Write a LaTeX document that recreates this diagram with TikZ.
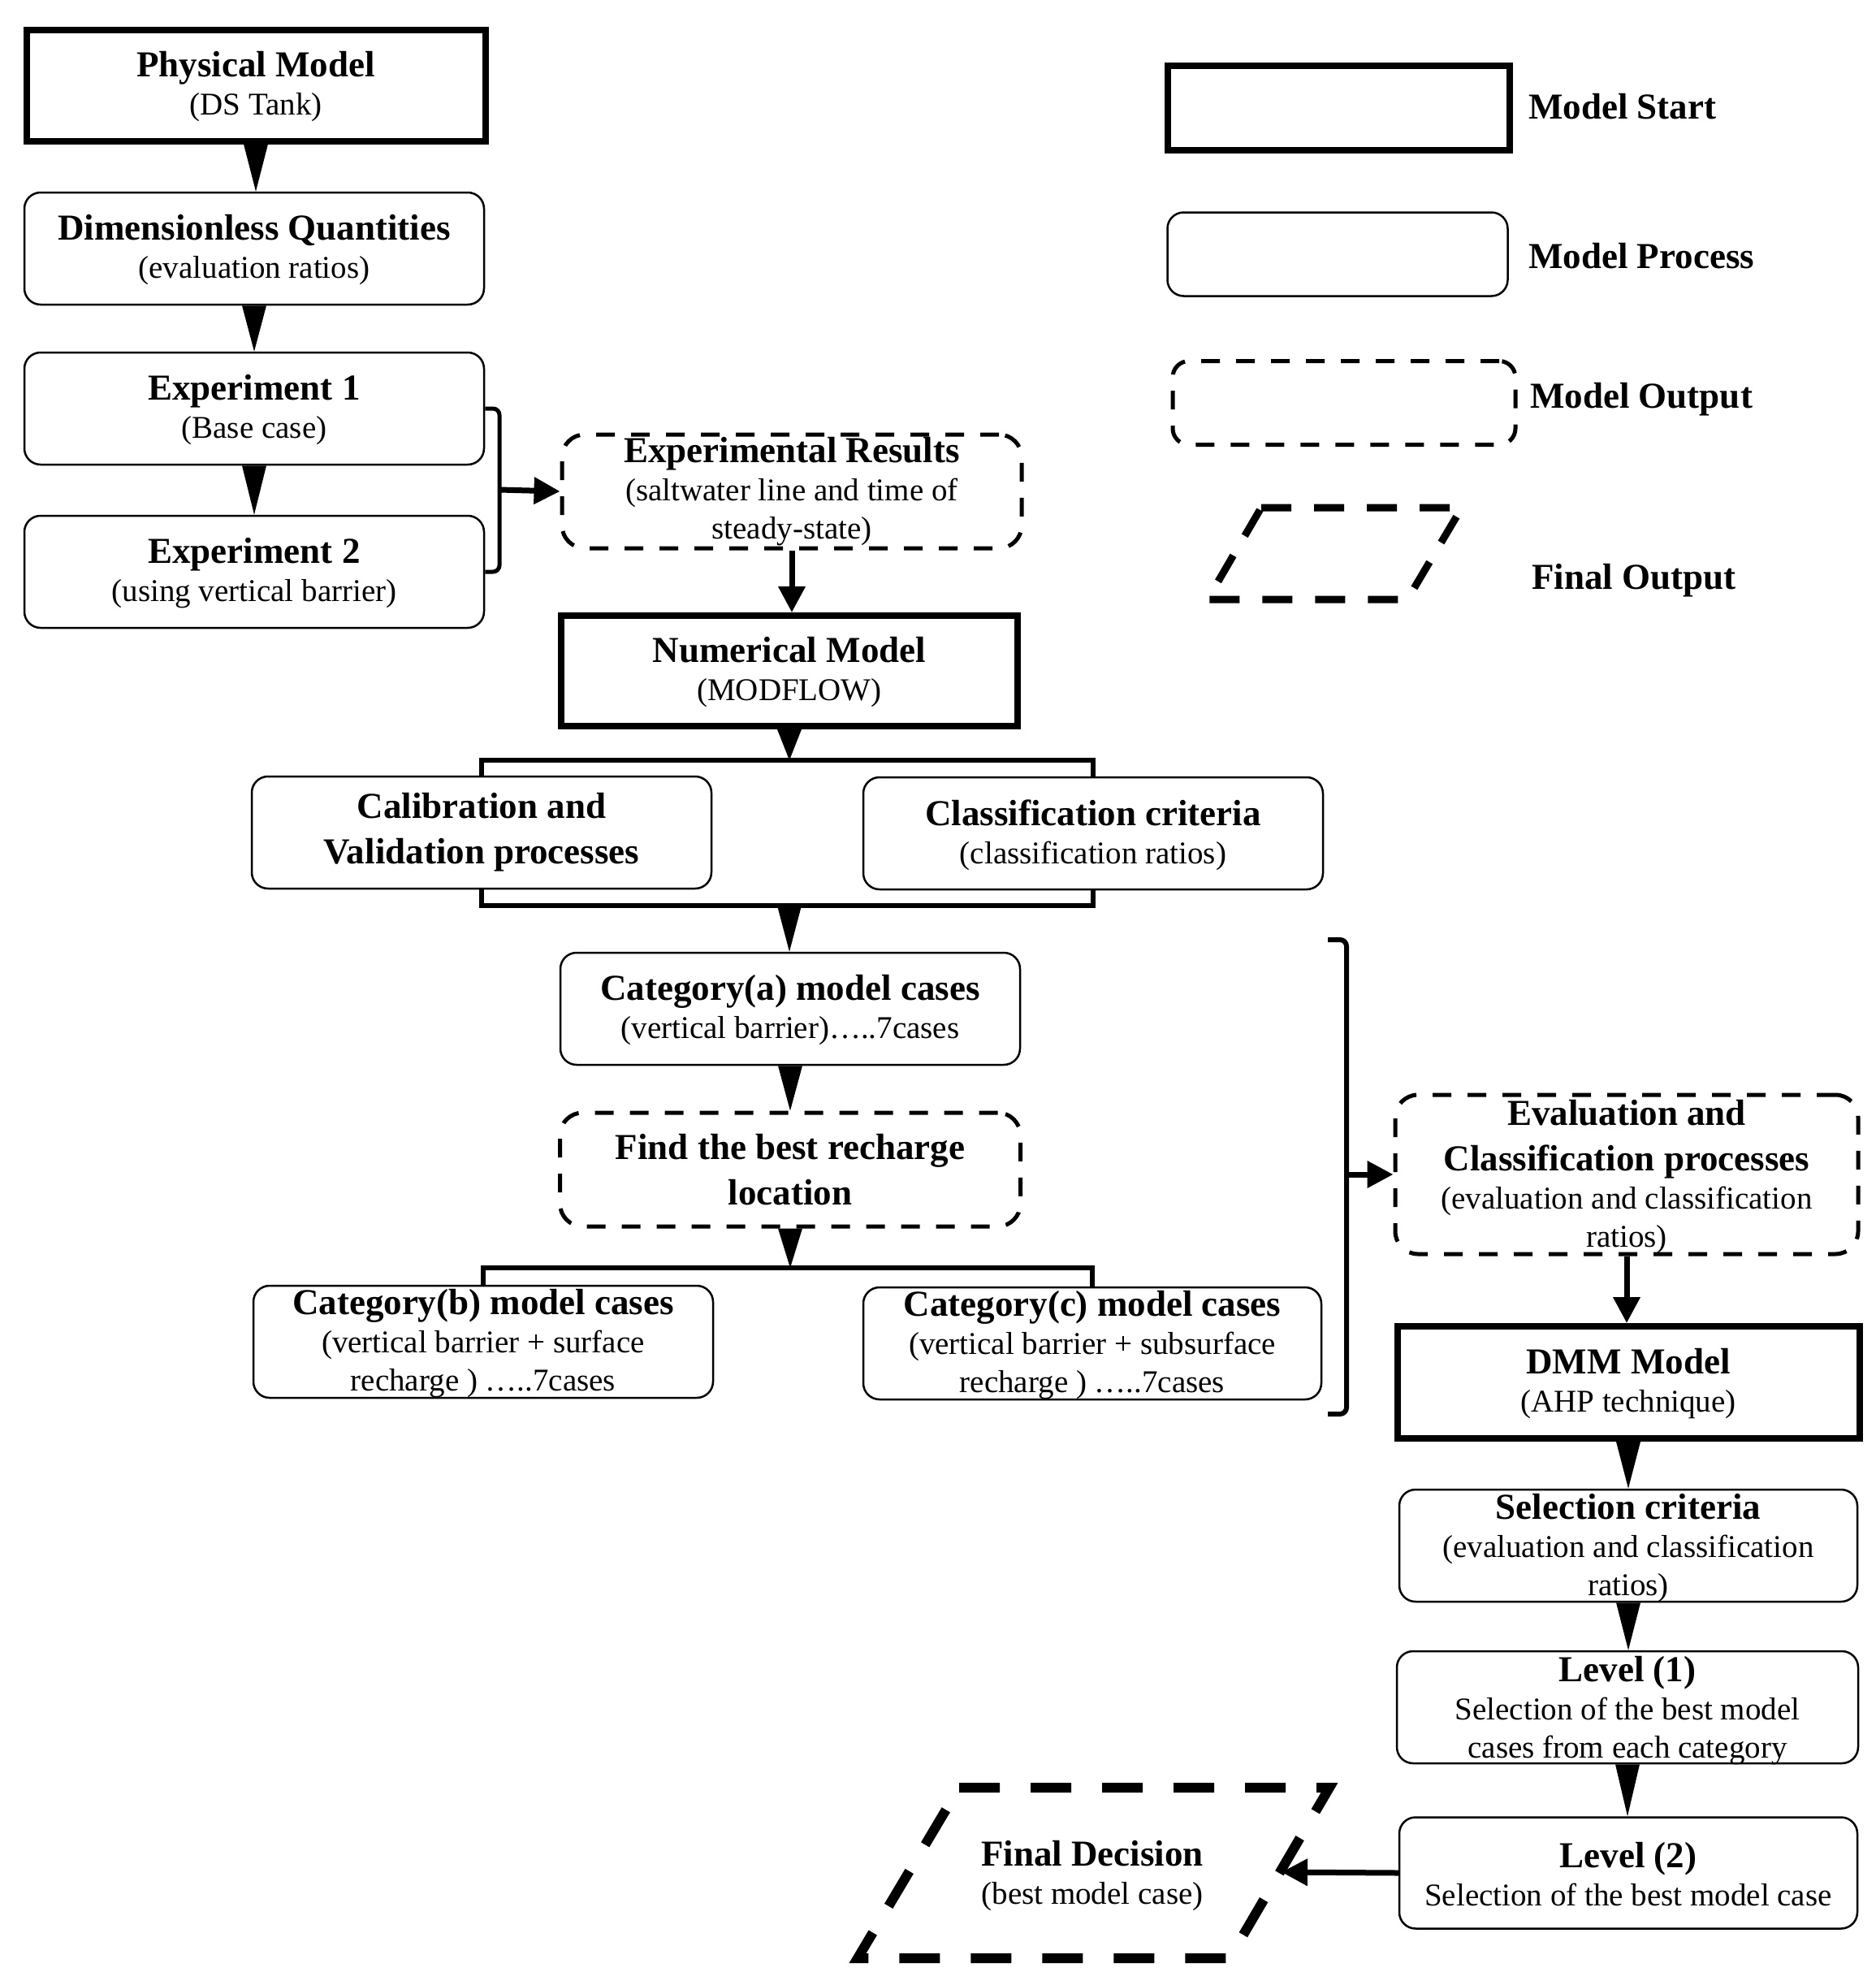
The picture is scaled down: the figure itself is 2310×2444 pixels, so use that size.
\documentclass[tikz,border=0pt]{standalone}
\usepackage{fontspec}
\setmainfont{Liberation Serif}
\usetikzlibrary{arrows.meta,calc}
\newcommand{\Hd}{\fontsize{45}{47}\selectfont\bfseries}
\newcommand{\Rg}{\fontsize{39}{47}\selectfont\mdseries}
\newcommand{\wedgeconn}[2]{\fill[black] ([xshift=-15pt]#1) -- ([xshift=15pt]#1) -- (#1 |- #2) -- cycle;}
\tikzset{
  startbox/.style={draw, line width=8pt, inner sep=0pt},
  procbox/.style={draw, line width=2.5pt, rounded corners=20pt, inner sep=0pt},
  outbox/.style={draw, line width=5pt, dash pattern=on 23pt off 20pt, rounded corners=28pt, inner sep=0pt},
  txt/.style={align=center, inner sep=0pt, font=\Rg},
  legtxt/.style={anchor=west, inner sep=0pt, font=\Hd},
  thickarrow/.style={line width=7pt, -{Triangle[length=32pt,width=32pt]}},
  brk/.style={line width=5pt, rounded corners=8pt},
  bar/.style={line width=6pt},
  finalshape/.style={line width=12pt, dash pattern=on 50pt off 38pt},
  legfinal/.style={line width=9pt, dash pattern=on 37pt off 28pt}
}
\begin{document}
\begin{tikzpicture}[x=1pt,y=-1pt]
\useasboundingbox (0,0) rectangle (2310,2444);

% ---------- left column ----------
\node[startbox, minimum width=565pt, minimum height=137pt] (phys) at (315,105) {};
\node[txt] (phys-t) at ([yshift=-2pt]phys.center) {{\Hd Physical Model}\\(DS Tank)};

\node[procbox, minimum width=566pt, minimum height=138pt] (dimq) at (313,306) {};
\node[txt] (dimq-t) at ([yshift=-2pt]dimq.center) {{\Hd Dimensionless Quantities}\\(evaluation ratios)};

\node[procbox, minimum width=566pt, minimum height=138pt] (exp1) at (313,503) {};
\node[txt] (exp1-t) at ([yshift=-2pt]exp1.center) {{\Hd Experiment 1}\\(Base case)};

\node[procbox, minimum width=566pt, minimum height=138pt] (exp2) at (313,704) {};
\node[txt] (exp2-t) at ([yshift=-2pt]exp2.center) {{\Hd Experiment 2}\\(using vertical barrier)};

\node[outbox, minimum width=566pt, minimum height=140pt] (expres) at (975,605) {};
\node[txt] (expres-t) at (expres.center) {{\Hd Experimental Results}\\(saltwater line and time of\\steady-state)};

\node[startbox, minimum width=562pt, minimum height=136pt] (num) at (972,826) {};
\node[txt] (num-t) at ([yshift=-2pt]num.center) {{\Hd Numerical Model}\\(MODFLOW)};

\node[procbox, minimum width=566pt, minimum height=138pt] (calib) at (593,1025) {};
\node[txt] (calib-t) at (calib.center) {{\Hd Calibration and}\\[9pt]{\Hd Validation processes}};

\node[procbox, minimum width=566pt, minimum height=138pt] (classc) at (1346,1026) {};
\node[txt] (classc-t) at ([yshift=-2pt]classc.center) {{\Hd Classification criteria}\\(classification ratios)};

\node[procbox, minimum width=566pt, minimum height=138pt] (cata) at (973,1242) {};
\node[txt] (cata-t) at ([yshift=-2pt]cata.center) {{\Hd Category(a) model cases}\\(vertical barrier)…..7cases};

\node[outbox, minimum width=567pt, minimum height=140pt] (find) at (973,1440) {};
\node[txt] (find-t) at (find.center) {{\Hd Find the best recharge}\\[9pt]{\Hd location}};

\node[procbox, minimum width=566pt, minimum height=138pt] (catb) at (595,1652) {};
\node[txt] (catb-t) at ([yshift=-2pt]catb.center) {{\Hd Category(b) model cases}\\(vertical barrier + surface\\recharge ) …..7cases};

\node[procbox, minimum width=564pt, minimum height=138pt] (catc) at (1345,1654) {};
\node[txt] (catc-t) at ([yshift=-2pt]catc.center) {{\Hd Category(c) model cases}\\(vertical barrier + subsurface\\recharge ) …..7cases};

% ---------- right column ----------
\node[outbox, minimum width=570pt, minimum height=196pt] (eval) at (2003,1446) {};
\node[txt] (eval-t) at ([yshift=-3pt]eval.center) {{\Hd Evaluation and}\\[9pt]{\Hd Classification processes}\\(evaluation and classification\\ratios)};

\node[startbox, minimum width=569pt, minimum height=138pt] (dmm) at (2005,1702) {};
\node[txt] (dmm-t) at ([yshift=-2pt]dmm.center) {{\Hd DMM Model}\\(AHP technique)};

\node[procbox, minimum width=564pt, minimum height=138pt] (selc) at (2005,1903) {};
\node[txt] (selc-t) at ([yshift=-3pt]selc.center) {{\Hd Selection criteria}\\(evaluation and classification\\ratios)};

\node[procbox, minimum width=568pt, minimum height=138pt] (lev1) at (2004,2102) {};
\node[txt] (lev1-t) at ([yshift=-4pt]lev1.center) {{\Hd Level (1)}\\Selection of the best model\\cases from each category};

\node[procbox, minimum width=564pt, minimum height=137pt] (lev2) at (2005,2306) {};
\node[txt] (lev2-t) at ([yshift=-2pt]lev2.center) {{\Hd Level (2)}\\Selection of the best model case};

% final decision parallelogram
\coordinate (fBL) at (1056,2411);
\coordinate (fTL) at (1181,2201);
\coordinate (fTR) at (1637,2201);
\coordinate (fBR) at (1514,2411);
\draw[finalshape] (fTL) -- (fTR) -- (fBR) -- (fBL) -- cycle;
\node[txt] (final) at (1345,2310) {{\Hd Final Decision}\\(best model case)};
\coordinate (finR) at (1578,2305);

% ---------- legend ----------
\node[startbox, minimum width=421pt, minimum height=104pt] (legstart) at (1648,133) {};
\node[legtxt] (legstart-t) at (1882,131) {Model Start};
\node[procbox, minimum width=419pt, minimum height=103pt] (legproc) at (1647,313) {};
\node[legtxt] (legproc-t) at (1882,315) {Model Process};
\node[outbox, rounded corners=20pt, minimum width=422pt, minimum height=103pt] (legout) at (1655,496) {};
\node[legtxt] (legout-t) at (1884,492) {Model Output};
\coordinate (lBL) at (1487,738);
\coordinate (lTL) at (1553,625);
\coordinate (lTR) at (1800,625);
\coordinate (lBR) at (1733,738);
\draw[legfinal] (lTL) -- (lTR) -- (lBR) -- (lBL) -- cycle;
\node[legtxt] (legfin-t) at (1886,715) {Final Output};

% ---------- connectors ----------
\wedgeconn{phys.south}{dimq.north}
\wedgeconn{dimq.south}{exp1.north}
\wedgeconn{exp1.south}{exp2.north}

\coordinate (brk1) at (615,603);
\draw[brk] (exp1.east) -| (brk1) |- (exp2.east);
\draw[thickarrow] (brk1) -- (expres.west);

\draw[thickarrow] (expres.south) -- (expres.south |- num.north);

\coordinate (bar1) at (972,936);
\wedgeconn{num.south}{bar1}
\draw[bar] (calib.north) |- (bar1) -| (classc.north);

\coordinate (bar2) at (972,1115);
\draw[bar] (calib.south) |- (bar2) -| (classc.south);
\wedgeconn{bar2}{cata.north}

\wedgeconn{cata.south}{find.north}

\coordinate (bar3) at (972,1561);
\wedgeconn{find.south}{bar3}
\draw[bar] (catb.north) |- (bar3) -| (catc.north);

\coordinate (brA) at (1635,1157);
\coordinate (brB) at (1635,1741);
\coordinate (brM) at (1658,1446);
\draw[brk, line width=6pt] (brA) -| (brM) |- (brB);
\draw[thickarrow] (brM) -- (eval.west);

\draw[thickarrow] (eval.south) -- (eval.south |- dmm.north);

\wedgeconn{dmm.south}{selc.north}
\wedgeconn{selc.south}{lev1.north}
\wedgeconn{lev1.south}{lev2.north}

\draw[thickarrow] (lev2.west) -- (finR);
\end{tikzpicture}
\end{document}
